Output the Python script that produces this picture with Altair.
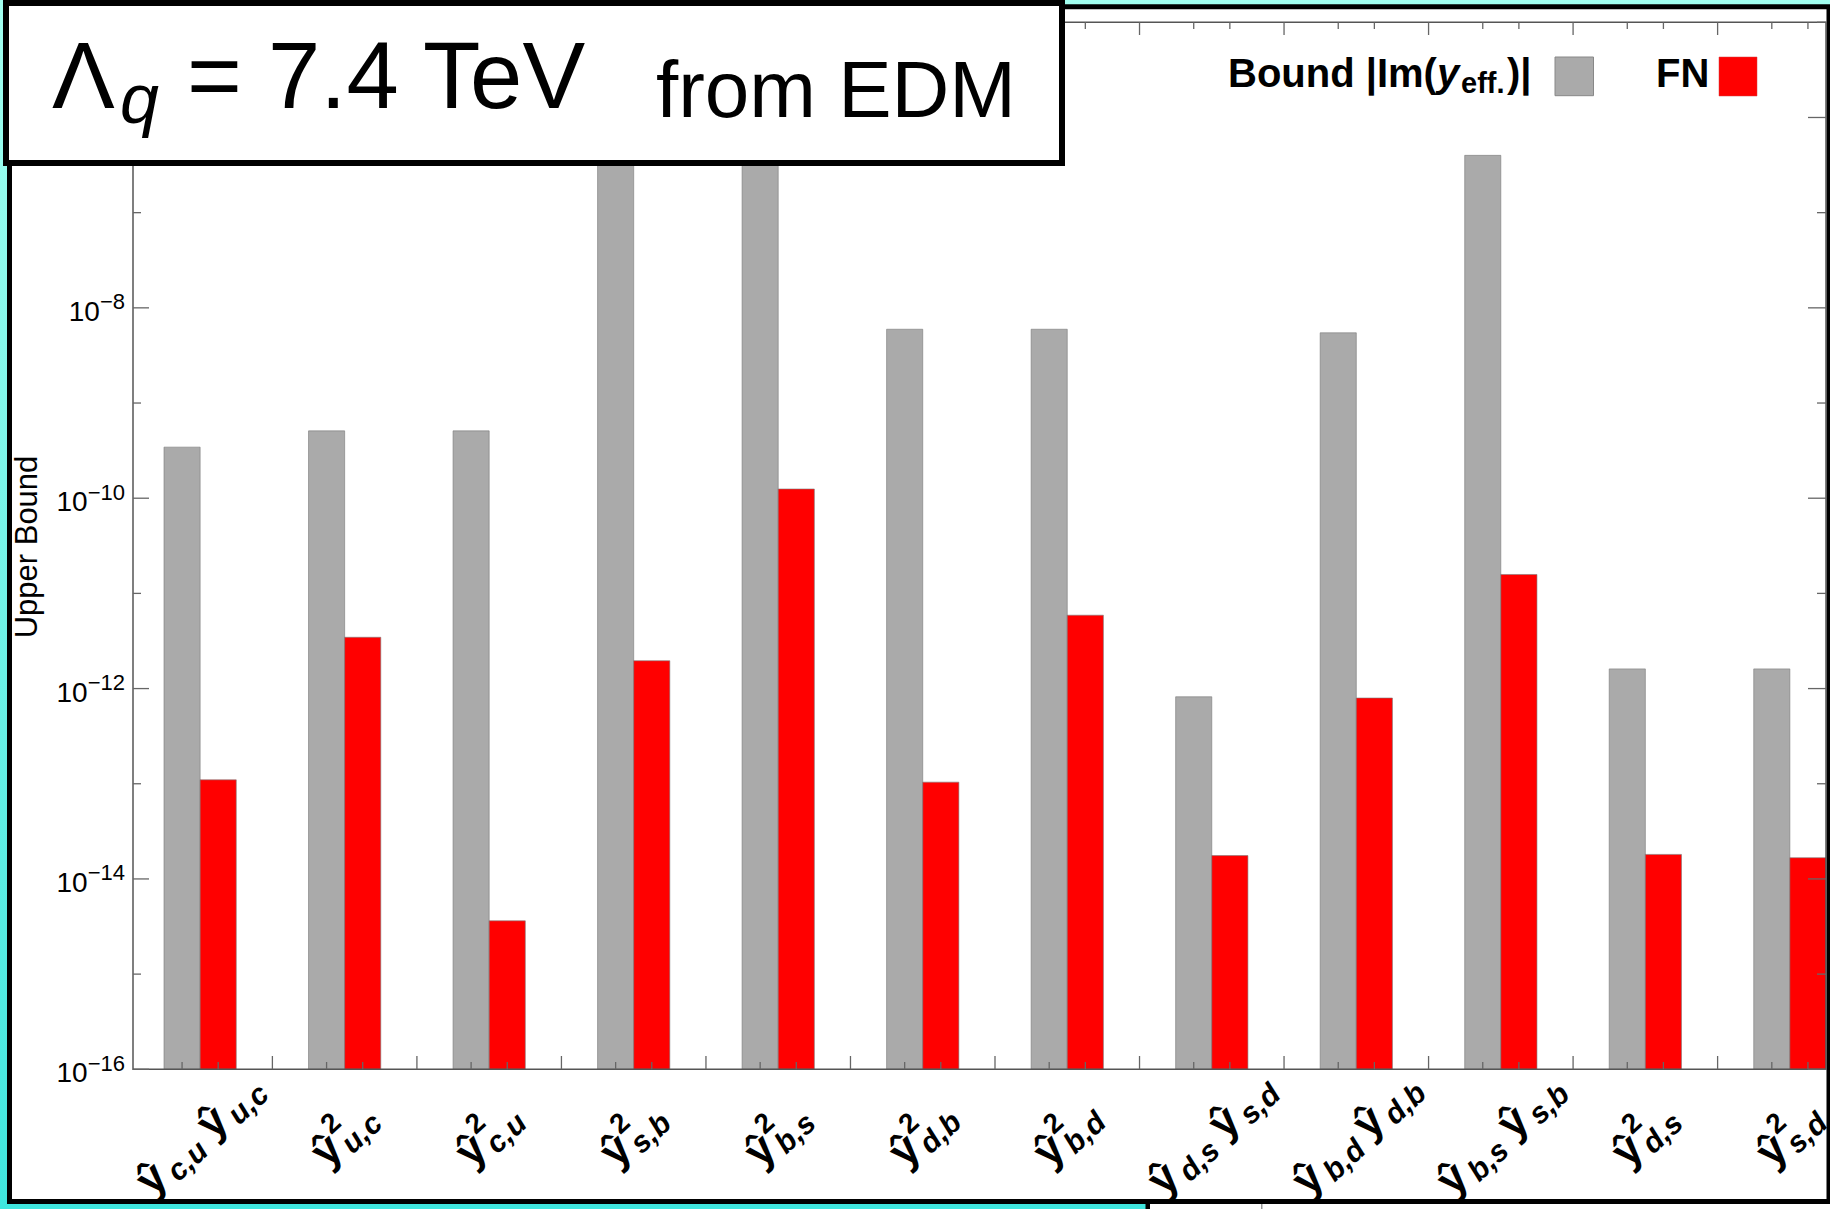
import altair as alt
import pandas as pd

FONT = "Liberation Sans"

# Effective Yukawa combinations along the x axis
label_kind = ["prod", "sq", "sq", "sq", "sq", "sq", "sq", "prod", "prod", "prod", "sq", "sq"]
label_sub1 = ["c,u", "u,c", "c,u", "s,b", "b,s", "d,b", "b,d", "d,s", "b,d", "b,s", "d,s", "s,d"]
label_sub2 = ["u,c", "", "", "", "", "", "", "s,d", "d,b", "s,b", "", ""]

# Upper bounds from the EDM and the Froggatt-Nielsen estimates
bound_im = [3.44e-10, 5.1e-10, 5.1e-10, 4.4e-7, 4.4e-7, 5.96e-9,
            5.96e-9, 8.2e-13, 5.47e-9, 4.0e-7, 1.61e-12, 1.61e-12]
fn_values = [1.10e-13, 3.46e-12, 3.63e-15, 1.96e-12, 1.25e-10, 1.04e-13,
             5.9e-12, 1.76e-14, 7.96e-13, 1.58e-11, 1.81e-14, 1.67e-14]

series_names = ["Bound", "FN"]
series_colors = ["#AAAAAA", "#FF0000"]

y_major_exp = [-16, -14, -12, -10, -8, -6]
y_minor_exp = [-15, -13, -11, -9, -7, -5]

W, H = 1830, 1209
one = pd.DataFrame({"k": [0]})

# slot units: each group = gray bar, red bar, two empty slots
XS = alt.Scale(domain=[-0.858, 46.0], range=[133, 1826], nice=False, zero=False)
YS = alt.Scale(type="log", domain=[1e-16, 1e-5], range=[1069.3, 22.3], nice=False)


def txt(s, x, y, size, weight="normal", style="normal", align="left",
        baseline="alphabetic", angle=0, color="black"):
    kw = dict(text=s, fontSize=size, fontWeight=weight, fontStyle=style,
              align=align, baseline=baseline, font=FONT, color=color)
    if angle:
        kw["angle"] = angle
    return alt.Chart(one).mark_text(**kw).encode(x=alt.value(x), y=alt.value(y))


def box(x, x2, y, y2, fill="white", stroke=None, sw=0, fill_opacity=1.0):
    kw = dict(fill=fill, fillOpacity=fill_opacity)
    if stroke:
        kw.update(stroke=stroke, strokeWidth=sw)
    return alt.Chart(one).mark_rect(**kw).encode(
        x=alt.value(x), x2=alt.value(x2), y=alt.value(y), y2=alt.value(y2))


# ---- background and panel ----
bg = alt.Chart(one).mark_rect(
    fill=alt.Gradient(gradient="linear",
                      stops=[alt.GradientStop(color="#A2FFF0", offset=0),
                             alt.GradientStop(color="#3FE6DE", offset=1)],
                      x1=0, x2=0, y1=0, y2=1)
).encode(x=alt.value(0), x2=alt.value(W), y=alt.value(0), y2=alt.value(H))

strip = box(1147, W, 1203, H, fill="white")
strip_edge = box(1145.5, 1150, 1203, H, fill="black")
strip_line = box(1261, 1262.5, 1203, H, fill="#999999")
panel = box(9.5, 1829, 6.7, 1201.5, fill="white", stroke="black", sw=5)

# ---- bars ----
rows = []
for i in range(12):
    rows.append({"x0": 4 * i, "x1": 4 * i + 1, "v": bound_im[i], "s": series_names[0]})
    rows.append({"x0": 4 * i + 1, "x1": 4 * i + 2, "v": fn_values[i], "s": series_names[1]})
bars_df = pd.DataFrame(rows)

bars = alt.Chart(bars_df).mark_rect(stroke="#7a7a7a", strokeWidth=1, strokeOpacity=0.6).encode(
    x=alt.X("x0:Q", scale=XS, axis=None),
    x2="x1:Q",
    y=alt.Y("v:Q", scale=YS, axis=None),
    y2=alt.datum(1e-16),
    color=alt.Color("s:N", scale=alt.Scale(domain=series_names, range=series_colors), legend=None),
)

# ---- frame and ticks ----
frame = box(133, 1826, 22.3, 1069.3, fill="white", fill_opacity=0, stroke="#555555", sw=1.5)

ymaj = pd.DataFrame({"v": [10.0 ** e for e in y_major_exp]})
ymin = pd.DataFrame({"v": [10.0 ** e for e in y_minor_exp]})


def yticks(df, xa, xb):
    return alt.Chart(df).mark_rule(color="#666666", strokeWidth=1.3).encode(
        y=alt.Y("v:Q", scale=YS, axis=None), x=alt.value(xa), x2=alt.value(xb))


xcent = pd.DataFrame({"p": [4 * i + o for i in range(12) for o in (0.5, 1.5)]})
xbound = pd.DataFrame({"p": [4 * i + 3 for i in range(11)]})


def xticks(df, ya, yb):
    return alt.Chart(df).mark_rule(color="#666666", strokeWidth=1.3).encode(
        x=alt.X("p:Q", scale=XS, axis=None), y=alt.value(ya), y2=alt.value(yb))


ticks = [
    yticks(ymaj, 133, 149), yticks(ymin, 133, 141),
    yticks(ymaj, 1808, 1826), yticks(ymin, 1817, 1826),
    xticks(xcent, 1069.3, 1062), xticks(xbound, 1069.3, 1056),
    xticks(xcent, 22.3, 29), xticks(xbound, 22.3, 35),
]

# ---- y tick labels: 10 with a superscript exponent ----
ylab_rows = []
for e in y_major_exp:
    sup = "\u2212" + str(-e)
    w = (0.584 + 0.556 * len(str(-e))) * 22
    ylab_rows.append({"v": 10.0 ** e, "sup": sup, "jx": 125 - w, "base": "10"})
ylab_df = pd.DataFrame(ylab_rows)

ylab_base = alt.Chart(ylab_df).mark_text(
    align="right", baseline="alphabetic", dy=13, fontSize=28, font=FONT, color="black"
).encode(y=alt.Y("v:Q", scale=YS, axis=None), x=alt.X("jx:Q", scale=None), text="base:N")
ylab_sup = alt.Chart(ylab_df).mark_text(
    align="right", baseline="alphabetic", dy=1.5, fontSize=22, font=FONT, color="black"
).encode(y=alt.Y("v:Q", scale=YS, axis=None), x=alt.value(125), text="sup:N")

ytitle = txt("Upper Bound", 28, 547, 31, align="center", baseline="middle", angle=270)

# ---- x labels: rotated hatted Yukawas with indices ----
lab = pd.DataFrame({
    "c": [4 * i + 1 for i in range(12)],
    "kind": label_kind, "s1": label_sub1, "s2": label_sub2,
    "hat": ["\u0177"] * 12, "two": ["2"] * 12,
})


def xlab(kind, field, dx, dy, size, style="normal"):
    return alt.Chart(lab).transform_filter(alt.datum.kind == kind).mark_text(
        align="left", baseline="alphabetic", angle=317, dx=dx, dy=dy,
        fontSize=size, fontWeight="bold", fontStyle=style, font=FONT, color="black"
    ).encode(x=alt.X("c:Q", scale=XS, axis=None), y=alt.value(1135), text=f"{field}:N")


xlabels = [
    xlab("sq", "hat", -36, 13, 44),
    xlab("sq", "two", -10, -9, 28),
    xlab("sq", "s1", -8, 20, 30, "italic"),
    xlab("prod", "hat", -77.5, 13, 44),
    xlab("prod", "s1", -48.5, 20, 30, "italic"),
    xlab("prod", "hat", 5.5, 13, 44),
    xlab("prod", "s2", 34.5, 20, 30, "italic"),
]

# ---- legend ----
legend = [
    txt("Bound |Im(", 1228, 87, 40, weight="bold"),
    txt("y", 1437, 87, 40, weight="bold", style="italic"),
    txt("eff.", 1461, 93, 29, weight="bold"),
    txt(")|", 1507, 87, 40, weight="bold"),
    box(1555, 1593.5, 57, 95.7, fill=series_colors[0], stroke="#888888", sw=1),
    txt("FN", 1656, 87, 40, weight="bold"),
    box(1719, 1757, 57, 96, fill=series_colors[1], stroke="#d04040", sw=0.5),
]

# ---- scale annotation box ----
tag = [
    box(6, 1062, 3, 163, fill="white", stroke="black", sw=6),
    txt("\u039b", 52, 108, 94),
    txt("q", 120, 123, 70, style="italic"),
    txt("= 7.4 TeV", 187, 108, 94),
    txt("from EDM", 656, 117, 80),
]

layers = [bg, strip, strip_edge, strip_line, panel, bars, frame] + ticks + \
    [ylab_base, ylab_sup, ytitle] + xlabels + legend + tag

chart = alt.layer(*layers).properties(
    width=W, height=H, autosize=alt.AutoSizeParams(type="none"), padding=0
).configure_view(stroke=None).configure(background="white")

chart.save("out.html", embed_options={"renderer": "svg", "actions": False})
